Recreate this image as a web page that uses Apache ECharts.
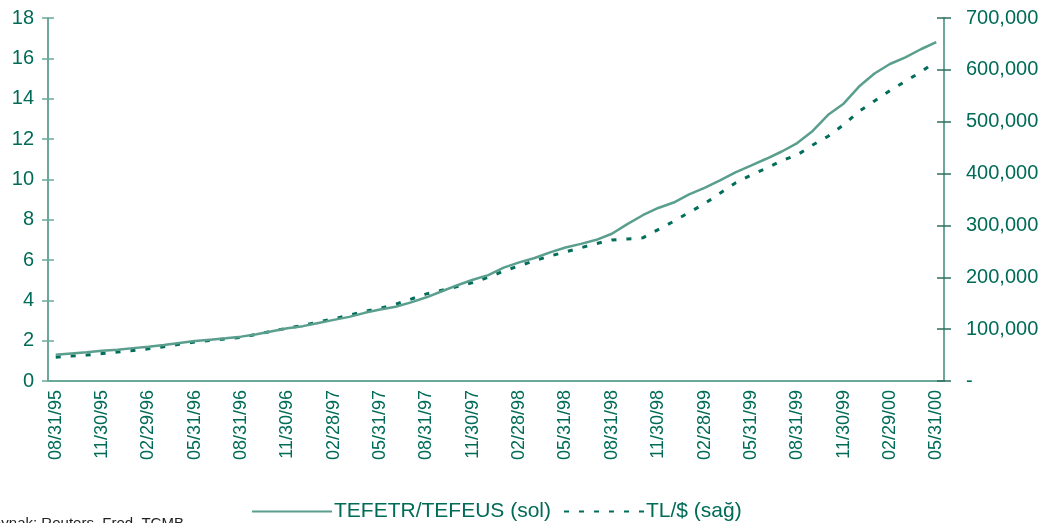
<!DOCTYPE html>
<html>
<head>
<meta charset="utf-8">
<script src="https://cdn.jsdelivr.net/npm/echarts@6/dist/echarts.min.js"></script>
<style>
    html, body { margin: 0; padding: 0; background: #fff; }
    #chart { width: 1055px; height: 523px; }
</style>
</head>
<body>
<div id="chart"></div>
<script>
// aylık tarihler (ay sonu)
const dates = [
    '08/31/95', '09/30/95', '10/31/95', '11/30/95', '12/31/95',
    '01/31/96', '02/29/96', '03/31/96', '04/30/96', '05/31/96', '06/30/96',
    '07/31/96', '08/31/96', '09/30/96', '10/31/96', '11/30/96', '12/31/96',
    '01/31/97', '02/28/97', '03/31/97', '04/30/97', '05/31/97', '06/30/97',
    '07/31/97', '08/31/97', '09/30/97', '10/31/97', '11/30/97', '12/31/97',
    '01/31/98', '02/28/98', '03/31/98', '04/30/98', '05/31/98', '06/30/98',
    '07/31/98', '08/31/98', '09/30/98', '10/31/98', '11/30/98', '12/31/98',
    '01/31/99', '02/28/99', '03/31/99', '04/30/99', '05/31/99', '06/30/99',
    '07/31/99', '08/31/99', '09/30/99', '10/31/99', '11/30/99', '12/31/99',
    '01/31/00', '02/29/00', '03/31/00', '04/30/00', '05/31/00'
];

// TEFETR/TEFEUS (sol eksen)
const tefeRatio = [
    1.30, 1.36, 1.42, 1.50, 1.55, 1.63, 1.70, 1.78, 1.88, 1.98,
    2.05, 2.12, 2.20, 2.32, 2.47, 2.62, 2.72, 2.88, 3.03, 3.18,
    3.38, 3.55, 3.68, 3.90, 4.15, 4.45, 4.75, 5.02, 5.25, 5.62,
    5.88, 6.10, 6.38, 6.62, 6.80, 7.00, 7.30, 7.78, 8.22, 8.58,
    8.85, 9.25, 9.58, 9.95, 10.35, 10.68, 11.02, 11.38, 11.80, 12.40,
    13.20, 13.75, 14.60, 15.25, 15.72, 16.05, 16.45, 16.80
];

// TL/$ (sağ eksen)
const tlUsd = [
    46000, 48000, 50000, 53000, 56000, 59000, 62000, 66000, 71000, 75000,
    78000, 81000, 84000, 90000, 96000, 102000, 107000, 114000, 120000, 127000,
    134000, 140000, 148000, 158000, 168000, 175000, 182000, 190000, 200000, 212000,
    222000, 232000, 241000, 249000, 257000, 265000, 272000, 274000, 276000, 292000,
    308000, 325000, 342000, 362000, 382000, 397000, 410000, 425000, 436000, 455000,
    472000, 494000, 520000, 540000, 560000, 578000, 596000, 616000
];

const leftTicks = { min: 0, max: 18, interval: 2 };
const rightTicks = { min: 0, max: 700000, interval: 100000 };

const textColor = '#006b57';
const lineColor = '#6aa89a';
const fontFamily = 'Liberation Sans, Arial, sans-serif';

function withComma(v) {
    if (v === 0) return '-';
    return String(v).replace(/\B(?=(\d{3})+(?!\d))/g, ',');
}

let myChart = echarts.init(document.getElementById('chart'));
let option = {
    animation: false,
    grid: {
        left: 48,
        right: 111,
        top: 18,
        bottom: 142,
        containLabel: false
    },
    legend: {
        left: 246,
        top: 496,
        itemWidth: 80,
        itemHeight: 12,
        itemGap: 12,
        itemStyle: { opacity: 0 },
        textStyle: {
            color: textColor,
            fontSize: 21,
            fontFamily: fontFamily,
            padding: [0, 0, 0, -3]
        },
        data: ['TEFETR/TEFEUS (sol)', 'TL/$ (sağ)']
    },
    xAxis: {
        type: 'category',
        data: dates,
        boundaryGap: true,
        axisLine: { show: true, lineStyle: { color: lineColor, width: 2 } },
        axisTick: { show: false },
        axisLabel: {
            interval: 2,
            rotate: 90,
            margin: 9,
            color: textColor,
            fontSize: 18,
            fontFamily: fontFamily
        },
        splitLine: { show: false }
    },
    yAxis: [
        {
            type: 'value',
            position: 'left',
            ...leftTicks,
            axisLine: { show: true, lineStyle: { color: lineColor, width: 2 } },
            axisTick: { show: true, length: 6, lineStyle: { color: lineColor, width: 1.5 } },
            axisLabel: { color: textColor, fontSize: 20, fontFamily: fontFamily, margin: 14 },
            splitLine: { show: false }
        },
        {
            type: 'value',
            position: 'right',
            ...rightTicks,
            axisLine: { show: true, lineStyle: { color: lineColor, width: 2 } },
            axisTick: { show: true, length: 7, lineStyle: { color: '#2f6e60', width: 1.5 } },
            axisLabel: {
                color: textColor, fontSize: 20, fontFamily: fontFamily, margin: 22,
                formatter: withComma
            },
            splitLine: { show: false }
        },
        {
            // sol eksen içe bakan tikler
            type: 'value',
            position: 'left',
            ...leftTicks,
            axisLine: { show: false },
            axisTick: { show: true, inside: true, length: 6, lineStyle: { color: lineColor, width: 1.5 } },
            axisLabel: { show: false },
            splitLine: { show: false }
        },
        {
            // sağ eksen içe bakan tikler
            type: 'value',
            position: 'right',
            ...rightTicks,
            axisLine: { show: false },
            axisTick: { show: true, inside: true, length: 7, lineStyle: { color: '#2f6e60', width: 1.5 } },
            axisLabel: { show: false },
            splitLine: { show: false }
        }
    ],
    graphic: [
        {
            type: 'text',
            left: -17,
            top: 516,
            style: {
                text: 'Kaynak: Reuters, Fred, TCMB',
                fill: '#222',
                font: '15px Liberation Sans, Arial, sans-serif'
            }
        }
    ],
    series: [
        {
            name: 'TEFETR/TEFEUS (sol)',
            type: 'line',
            yAxisIndex: 0,
            data: tefeRatio,
            symbol: 'none',
            z: 3,
            lineStyle: { color: '#5a9e8e', width: 2.5 },
            itemStyle: { color: '#5a9e8e' }
        },
        {
            name: 'TL/$ (sağ)',
            type: 'line',
            yAxisIndex: 1,
            data: tlUsd,
            symbol: 'none',
            z: 2,
            lineStyle: { color: '#006e5a', width: 3, type: [5, 10] },
            itemStyle: { color: '#006e5a' }
        }
    ]
};
myChart.setOption(option);
</script>
</body>
</html>
